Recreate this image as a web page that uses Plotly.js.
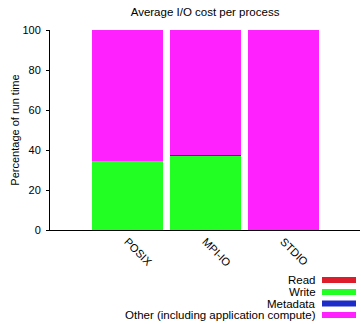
<!DOCTYPE html>
<html>
<head>
<meta charset="utf-8">
<script src="https://cdn.plot.ly/plotly-3.0.1.min.js"></script>
<style>html,body{margin:0;padding:0;background:#fff;}#chart{width:361px;height:324px;}</style>
</head>
<body>
<div id="chart"></div>
<script>
var categories = ["POSIX", "MPI-IO", "STDIO"];
var seriesNames = ["Read", "Write", "Metadata", "Other (including application compute)"];
var readVals = [0, 0, 0];
var writeVals = [34.5, 37, 0];
var metaVals = [0.2, 0.6, 0];
var otherVals = [65.3, 62.4, 100];
var colors = ["#dd1c2c", "#22ff22", "#1c2cc8", "#ff22ff"];
var yTicks = [0, 20, 40, 60, 80, 100];

var allVals = [readVals, writeVals, metaVals, otherVals];
var xIdx = categories.map(function(c, i){ return i; });
var traces = allVals.map(function(v, k){
  return {
    type: "bar", x: xIdx, y: v, name: seriesNames[k],
    width: 0.91,
    marker: {color: colors[k], line: {width: 0}},
    showlegend: false
  };
});

var font = "Liberation Sans, Arial, sans-serif";
var shapes = [], annotations = [];
var legY = [280, 292, 303.5, 315];
seriesNames.forEach(function(n, k){
  var yc = (230 - legY[k]) / 200;
  shapes.push({type: "rect", xref: "paper", yref: "paper",
    x0: (322 - 50) / 310, x1: (356 - 50) / 310,
    y0: yc - 3 / 200, y1: yc + 3 / 200,
    fillcolor: colors[k], line: {width: 0}});
  annotations.push({xref: "paper", yref: "paper", x: (318 - 50) / 310, y: yc,
    xanchor: "right", yanchor: "middle", text: n, showarrow: false,
    font: {family: font, size: 11.5, color: "#000"}});
});

var layout = {
  width: 361, height: 324,
  margin: {l: 50, r: 1, t: 30, b: 94},
  barmode: "stack",
  paper_bgcolor: "#fff", plot_bgcolor: "#fff",
  font: {family: font, size: 11, color: "#000"},
  title: {text: "Average I/O cost per process", x: 0.568, xanchor: "center", y: 0.963, yanchor: "middle",
    font: {family: font, size: 11.5, color: "#000"}},
  xaxis: {
    range: [-0.99, 2.98], tickmode: "array", tickvals: xIdx, ticktext: categories,
    tickangle: 45, showline: true, linecolor: "#000", linewidth: 1,
    ticks: "", showgrid: false, zeroline: false, fixedrange: true,
    tickfont: {family: font, size: 11, color: "#000"}
  },
  yaxis: {
    range: [0, 100], tickmode: "array", tickvals: yTicks,
    showline: true, linecolor: "#000", linewidth: 1, ticks: "outside", ticklen: 3, tickcolor: "#000",
    ticklabelstandoff: 3,
    showgrid: false, zeroline: false,
    title: {text: "Percentage of run time", standoff: 0, font: {family: font, size: 11, color: "#000"}},
    tickfont: {family: font, size: 11, color: "#000"}
  },
  shapes: shapes,
  annotations: annotations
};
Plotly.newPlot("chart", traces, layout, {staticPlot: true});
</script>
</body>
</html>
